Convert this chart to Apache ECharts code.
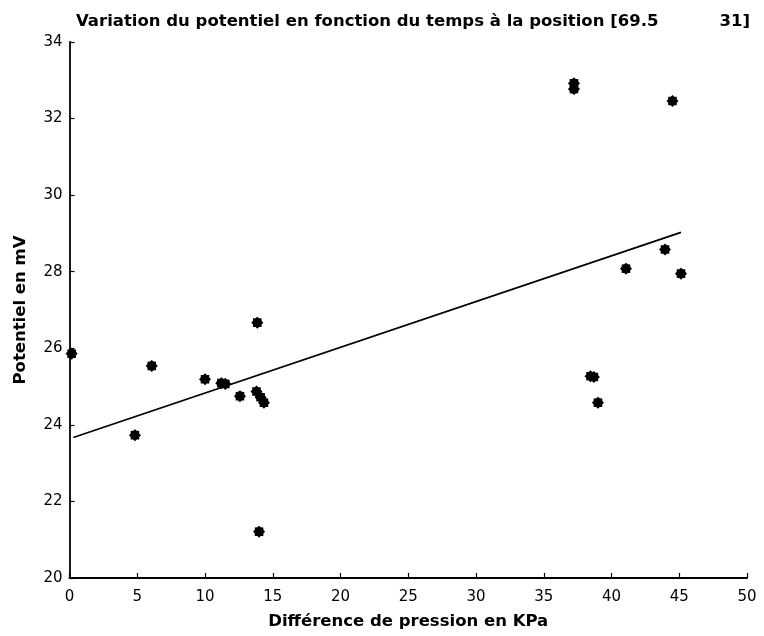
<!DOCTYPE html>
<html>
<head>
<meta charset="utf-8">
<script src="https://cdn.jsdelivr.net/npm/echarts@6/dist/echarts.min.js"></script>
<style>html,body{margin:0;padding:0;background:#fff}#c{width:764px;height:636px}</style>
</head>
<body>
<div id="c"></div>
<script>
// Data
const pressionKPa = [0.16, 4.83, 6.07, 10.0, 11.2, 11.5, 12.58, 13.86, 13.8, 14.1, 14.35, 13.99, 37.23, 37.23, 44.5, 38.45, 38.7, 39.0, 41.07, 43.95, 45.13];
const potentielMV = [25.86, 23.73, 25.54, 25.19, 25.09, 25.07, 24.75, 26.67, 24.87, 24.72, 24.58, 21.21, 32.92, 32.77, 32.46, 25.27, 25.25, 24.58, 28.08, 28.58, 27.95];
const fitX = [0.28, 45.13];
const fitY = [23.67, 29.03];
const xTicks = [0, 5, 10, 15, 20, 25, 30, 35, 40, 45, 50];
const yTicks = [20, 22, 24, 26, 28, 30, 32, 34];
const titleMain = 'Variation du potentiel en fonction du temps à la position [69.5';
const titleEnd = '31]';

const points = pressionKPa.map((x, i) => [x, potentielMV[i]]);
const fitLine = fitX.map((x, i) => [x, fitY[i]]);
const star = 'path://M0,-10 L3.0,-7.2 L7.1,-7.1 L7.2,-3.0 L10,0 L7.2,3.0 L7.1,7.1 L3.0,7.2 L0,10 L-3.0,7.2 L-7.1,7.1 L-7.2,3.0 L-10,0 L-7.2,-3.0 L-7.1,-7.1 L-3.0,-7.2 Z';

const chart = echarts.init(document.getElementById('c'), null, {renderer: 'canvas'});
const font = '"DejaVu Sans", sans-serif';
const titleStyle = {fontFamily: font, fontSize: 16.5, fontWeight: 'bold', color: '#000'};
chart.setOption({
  animation: false,
  backgroundColor: '#fff',
  title: [
    {text: titleMain, left: 71, top: 8, textStyle: titleStyle},
    {text: titleEnd, right: 9, top: 8, textStyle: titleStyle}
  ],
  grid: {left: 69.5, right: 17, top: 42, bottom: 58},
  xAxis: {
    type: 'value', min: 0, max: 50, interval: 5,
    name: 'Différence de pression en KPa', nameLocation: 'middle', nameGap: 35,
    nameTextStyle: {fontFamily: font, fontSize: 16.5, fontWeight: 'bold', color: '#000'},
    axisLine: {show: true, lineStyle: {color: '#000', width: 1.8}},
    axisTick: {show: true, inside: true, length: 5, lineStyle: {color: '#000', width: 1.2}},
    axisLabel: {fontFamily: font, fontSize: 15, color: '#000', margin: 12,
      formatter: v => xTicks.includes(v) ? String(v) : ''},
    splitLine: {show: false}
  },
  yAxis: {
    type: 'value', min: 20, max: 34, interval: 2,
    name: 'Potentiel en mV', nameLocation: 'middle', nameGap: 40,
    nameTextStyle: {fontFamily: font, fontSize: 16.5, fontWeight: 'bold', color: '#000'},
    axisLine: {show: true, lineStyle: {color: '#000', width: 1.8}},
    axisTick: {show: true, inside: true, length: 5, lineStyle: {color: '#000', width: 1.2}},
    axisLabel: {fontFamily: font, fontSize: 15, color: '#000', margin: 7,
      formatter: v => yTicks.includes(v) ? String(v) : ''},
    splitLine: {show: false}
  },
  series: [
    {
      type: 'line', data: fitLine, symbol: 'none', silent: true,
      lineStyle: {color: '#000', width: 1.8}
    },
    {
      type: 'scatter', data: points, symbol: star, symbolSize: 12,
      itemStyle: {color: '#000', opacity: 1}
    }
  ]
});
</script>
</body>
</html>
